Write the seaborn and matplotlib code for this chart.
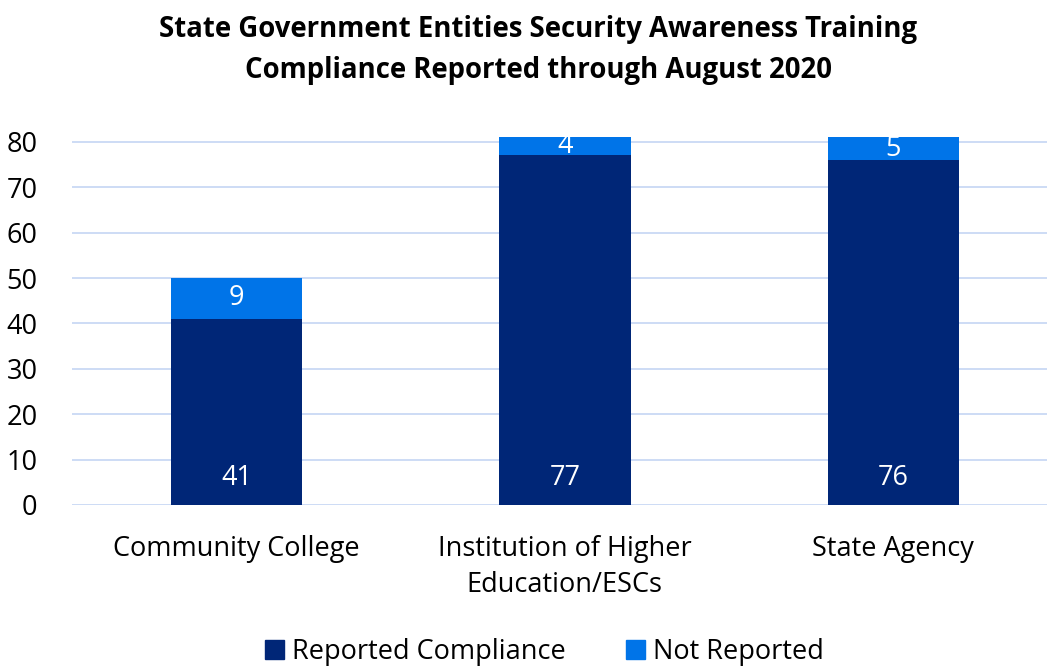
import matplotlib
matplotlib.use("Agg")
import matplotlib.pyplot as plt
import seaborn as sns
import pandas as pd
from matplotlib.patches import Patch

categories = ["Community College", "Institution of Higher\nEducation/ESCs", "State Agency"]
reported = [41, 77, 76]
not_reported = [9, 4, 5]
yticks = [0, 10, 20, 30, 40, 50, 60, 70, 80]

dark = "#002677"
bright = "#0074E8"
grid_c = "#C9D9F5"

sns.set_theme(style="white")
plt.rcParams["font.family"] = ["Open Sans", "DejaVu Sans"]
plt.rcParams["text.color"] = "black"

df = pd.DataFrame({
    "category": categories,
    "reported": reported,
    "not_reported": not_reported,
})
df["total"] = df["reported"] + df["not_reported"]

fig = plt.figure(figsize=(10.47, 6.67), dpi=100)
ax = fig.add_axes([0.069, 0.243, 0.941, 0.5545])

sns.barplot(data=df, x="category", y="total", color=bright, width=0.4,
            saturation=1, ax=ax, zorder=3, linewidth=0)
sns.barplot(data=df, x="category", y="reported", color=dark, width=0.4,
            saturation=1, ax=ax, zorder=3, linewidth=0)

for i, (r, n) in enumerate(zip(reported, not_reported)):
    ax.text(i, 6.0, f"{r}", ha="center", va="center", color="white", fontsize=19.5, zorder=5)
    ax.text(i, r + n / 2, f"{n}", ha="center", va="center", color="white", fontsize=19.5, zorder=5)

ax.set_ylim(0, 81.5)
ax.set_xlim(-0.5, 2.5)
ax.set_yticks(yticks)
ax.yaxis.grid(True, color=grid_c, linewidth=1.3, zorder=0)
ax.set_axisbelow(True)
for s in ax.spines.values():
    s.set_visible(False)
ax.tick_params(axis="y", labelsize=19.5, colors="black", length=0, pad=25)
ax.tick_params(axis="x", labelsize=19.5, colors="black", length=0, pad=22)
for lab in ax.get_xticklabels():
    lab.set_linespacing(1.35)
ax.set_xlabel("")
ax.set_ylabel("")

fig.suptitle("State Government Entities Security Awareness Training\nCompliance Reported through August 2020",
             x=0.514, y=0.978, fontsize=19.8, fontweight="bold", linespacing=1.55, color="black")

handles = [Patch(color=dark, label="Reported Compliance"), Patch(color=bright, label="Not Reported")]
fig.legend(handles=handles, loc="lower center", bbox_to_anchor=(0.52, -0.035), ncol=2,
           frameon=False, fontsize=19.5, handlelength=0.7, handleheight=0.7,
           handletextpad=0.3, columnspacing=2.2)

fig.savefig("out.png", dpi=100)
